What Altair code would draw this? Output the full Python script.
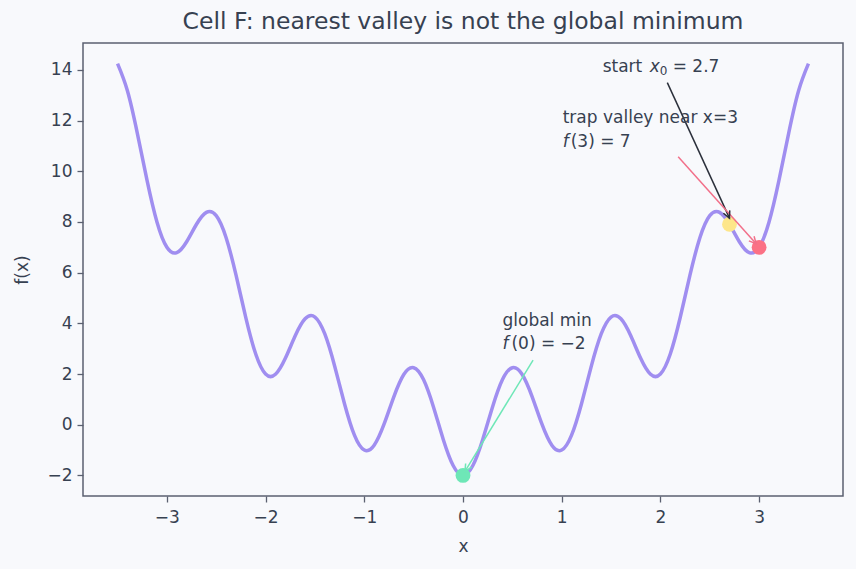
import math
import altair as alt
import pandas as pd

# ---- data ----
curve_x = [-3.5, -3.4, -3.3, -3.2, -3.1, -3.0, -2.9, -2.8, -2.7, -2.6, -2.5, -2.4, -2.3, -2.2, -2.1,
           -2.0, -1.9, -1.8, -1.7, -1.6, -1.5, -1.4, -1.3, -1.2, -1.1, -1.0, -0.9, -0.8, -0.7, -0.6,
           -0.5, -0.4, -0.3, -0.2, -0.1, 0.0, 0.1, 0.2, 0.3, 0.4, 0.5, 0.6, 0.7, 0.8, 0.9, 1.0, 1.1,
           1.2, 1.3, 1.4, 1.5, 1.6, 1.7, 1.8, 1.9, 2.0, 2.1, 2.2, 2.3, 2.4, 2.5, 2.6, 2.7, 2.8, 2.9,
           3.0, 3.1, 3.2, 3.3, 3.4, 3.5]
curve_y = [14.25, 13.18, 11.51, 9.62, 7.99, 7.00, 6.79, 7.22, 7.91, 8.38, 8.25, 7.38, 5.91, 4.22, 2.79,
           2.00, 1.99, 2.62, 3.51, 4.18, 4.25, 3.58, 2.31, 0.82, -0.41, -1.00, -0.81, 0.02, 1.11, 1.98,
           2.25, 1.78, 0.71, -0.58, -1.61, -2.00, -1.61, -0.58, 0.71, 1.78, 2.25, 1.98, 1.11, 0.02, -0.81,
           -1.00, -0.41, 0.82, 2.31, 3.58, 4.25, 4.18, 3.51, 2.62, 1.99, 2.00, 2.79, 4.22, 5.91, 7.38,
           8.25, 8.38, 7.91, 7.22, 6.79, 7.00, 7.99, 9.62, 11.51, 13.18, 14.25]

marker_x = [0.0, 2.7, 3.0]
marker_y = [-2.0, 7.91, 7.0]
marker_color = ["#6ee7b7", "#fde68a", "#fb7185"]

arrow_x = [2.07, 2.18, 0.71]
arrow_y = [13.5, 10.57, 2.55]
arrow_x2 = [2.70, 2.97, 0.02]
arrow_y2 = [8.15, 7.14, -1.84]
arrow_color = ["#2b303b", "#f2708a", "#6ee7b7"]

x_ticks = [-3, -2, -1, 0, 1, 2, 3]
y_ticks = [-2, 0, 2, 4, 6, 8, 10, 12, 14]

TEXT = "#374151"
AXIS = "#5b6070"
FONT = "DejaVu Sans"

W, H = 760, 453
X_DOM = [-3.85, 3.85]
Y_DOM = [-2.8125, 15.0625]

xs = alt.Scale(domain=X_DOM, nice=False, zero=False)
ys = alt.Scale(domain=Y_DOM, nice=False, zero=False)

# head angle (pixel space) for each arrow
sx = W / (X_DOM[1] - X_DOM[0])
sy = H / (Y_DOM[1] - Y_DOM[0])
angles = []
for a, b, c, d in zip(arrow_x, arrow_y, arrow_x2, arrow_y2):
    ang = math.degrees(math.atan2((c - a) * sx, (d - b) * sy)) % 360
    angles.append(ang)

curve_df = pd.DataFrame({"x": curve_x, "y": curve_y})
marker_df = pd.DataFrame({"x": marker_x, "y": marker_y, "c": marker_color})
arrow_df = pd.DataFrame({"x": arrow_x, "y": arrow_y, "x2": arrow_x2, "y2": arrow_y2,
                         "c": arrow_color, "ang": angles})

base_x = alt.X("x:Q", scale=xs, title="x",
               axis=alt.Axis(values=x_ticks, format="d", grid=False))
base_y = alt.Y("y:Q", scale=ys, title="f(x)",
               axis=alt.Axis(values=y_ticks, format="d", grid=False))

line = alt.Chart(curve_df).mark_line(
    color="#a08ef0", strokeWidth=3.5, interpolate="natural", clip=True
).encode(x=base_x, y=base_y)

markers = alt.Chart(marker_df).mark_point(
    filled=True, size=220, opacity=1, shape="circle"
).encode(x="x:Q", y="y:Q", color=alt.Color("c:N", scale=None))

shafts = alt.Chart(arrow_df).mark_rule(strokeWidth=1.5).encode(
    x="x:Q", y="y:Q", x2="x2:Q", y2="y2:Q", color=alt.Color("c:N", scale=None))

heads = alt.Chart(arrow_df).mark_point(
    shape="M -0.5 1 L 0 0 L 0.5 1", filled=False, size=196, strokeWidth=1.5, opacity=1
).encode(x=alt.X("x2:Q"), y=alt.Y("y2:Q"),
         color=alt.Color("c:N", scale=None), angle=alt.Angle("ang:Q", scale=None))


def txt(xv, yv, s, dx=0, dy=0, italic=False, size=17):
    df = pd.DataFrame({"x": [xv], "y": [yv], "t": [s]})
    return alt.Chart(df).mark_text(
        align="left", baseline="middle", dx=dx, dy=dy, font=FONT, fontSize=size,
        fontStyle="italic" if italic else "normal", color=TEXT
    ).encode(x="x:Q", y="y:Q", text="t:N")


labels = [
    txt(1.415, 14.13, "start"),
    txt(1.415, 14.13, "x", dx=47, italic=True),
    txt(1.415, 14.13, "0", dx=57, dy=4, size=12),
    txt(1.415, 14.13, "= 2.7", dx=70),
    txt(1.01, 12.11, "trap valley near x=3"),
    txt(1.01, 11.16, "f", italic=True),
    txt(1.01, 11.16, "(3) = 7", dx=8),
    txt(0.40, 4.09, "global min"),
    txt(0.40, 3.18, "f", italic=True),
    txt(0.40, 3.18, "(0) = −2", dx=9),
]

chart = alt.layer(line, markers, shafts, heads, *labels).properties(
    width=W, height=H,
    title=alt.Title("Cell F: nearest valley is not the global minimum",
                    font=FONT, fontSize=23.5, fontWeight="normal", color=TEXT,
                    anchor="middle", offset=10),
    autosize=alt.AutoSizeParams(type="none"),
    padding={"left": 83, "top": 43, "right": 13, "bottom": 73},
).configure(
    background="#f8f9fc",
).configure_view(
    stroke=AXIS, strokeWidth=1.5, fill="#f8f9fc"
).configure_axis(
    domain=False, tickColor=AXIS, tickWidth=1.3, tickSize=6,
    labelFont=FONT, labelFontSize=17, labelColor=TEXT, labelPadding=5,
    titleFont=FONT, titleFontSize=17, titleColor=TEXT, titleFontWeight="normal",
).configure_axisX(titlePadding=13, labelPadding=7).configure_axisY(titlePadding=15)

chart.save("out.html", embed_options={"renderer": "svg", "actions": False})
